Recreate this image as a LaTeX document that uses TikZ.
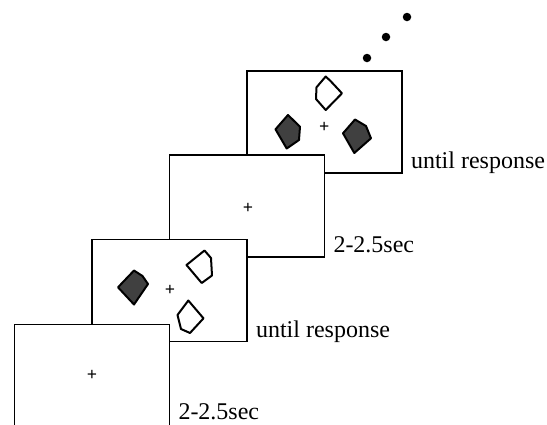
\documentclass[tikz,border=0pt]{standalone}
\usepackage{fontspec}
\setmainfont{Liberation Serif}
\usepackage{tikz}

\begin{document}
\begin{tikzpicture}[x=1pt, y=-1pt,
	frame/.style = {draw, fill=white, line width=1.6pt, inner sep=0pt, minimum width=155pt, minimum height=102pt},
	lbl/.style = {anchor=base west, inner sep=0pt, xshift=8pt, yshift=5pt, font=\fontsize{24}{28}\selectfont},
	fix/.style = {inner sep=0pt, font=\fontsize{18}{18}\selectfont\bfseries},
	dot/.style = {circle, fill, inner sep=0pt, minimum size=8.5pt},
	openshape/.style = {draw, line width=2pt, line join=round},
	fullshape/.style = {draw, fill=black!75, line width=2pt, line join=round}]
	\useasboundingbox (0,0) rectangle (547,424);
	\clip (0,0) rectangle (547,424);
	% dots
	\node[dot] (d1) at (367,58) {};
	\node[dot] (d2) at (386,37) {};
	\node[dot] (d3) at (407,17) {};
	% last display
	\node[frame] (f4) at (324.5,122) {};
	\node[fix] (c4) at (324.3,127.3) {+};
	\draw[openshape] (325.7,76.5) -- (316.5,87.3) -- (316,99) -- (325.7,110) -- (342,93.3) -- (330.5,81) -- cycle;
	\draw[fullshape] (288,115) -- (275.5,129.3) -- (286.7,148.5) -- (299,140) -- (300,126.7) -- cycle;
	\draw[fullshape] (355,119.5) -- (343,133.3) -- (354.3,153) -- (371,138.3) -- (366,126) -- cycle;
	\node[lbl] at (f4.south east) {until response};
	% fixation
	\node[frame] (f3) at (247,206) {};
	\node[fix] (c3) at (248,208) {+};
	\node[lbl] at (f3.south east) {2-2.5sec};
	% search display
	\node[frame] (f2) at (169.5,290.5) {};
	\node[fix] (c2) at (170,290) {+};
	\draw[fullshape] (134,270.5) -- (118,287.3) -- (134,304.5) -- (148,284) -- (142.5,276) -- cycle;
	\draw[openshape] (204.5,250.5) -- (186.5,265) -- (201.7,283) -- (212,275.5) -- (211,258) -- cycle;
	\draw[openshape] (188.3,300.5) -- (177.5,315) -- (181,329) -- (190,333) -- (203.5,318.3) -- cycle;
	\node[lbl] at (f2.south east) {until response};
	% first fixation
	\node[frame] (f1) at (92,375.5) {};
	\node[fix] (c1) at (92,375) {+};
	\node[lbl, yshift=3pt] at (f1.south east) {2-2.5sec};
\end{tikzpicture}
\end{document}
